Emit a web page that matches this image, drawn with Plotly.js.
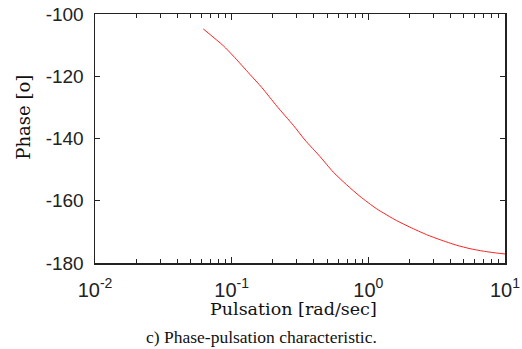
<!DOCTYPE html>
<html>
<head>
<meta charset="utf-8">
<script src="https://cdn.plot.ly/plotly-3.0.1.min.js"></script>
<style>html,body{margin:0;padding:0;background:#fff;}#chart{width:522px;height:349px;}</style>
</head>
<body>
<div id="chart"></div>
<script>
// Pulsation (rad/sec) and phase (degrees)
const pulsation = [0.062, 0.0869, 0.1028, 0.136, 0.166, 0.214, 0.283, 0.344, 0.443, 0.554, 0.695, 0.869, 1.151, 1.613, 2.02, 2.67, 3.34, 4.43, 5.55, 6.94, 8.69, 10];
const phase = [-104.8, -110.2, -113.5, -119.4, -123.6, -129.6, -135.8, -140.5, -145.8, -150.8, -154.9, -158.6, -162.6, -166.4, -168.5, -170.9, -172.5, -174.3, -175.4, -176.2, -176.8, -177.1];

const xTickVals = [0.01, 0.1, 1, 10];
const xTickText = ['10<sup>-2</sup>', '10<sup>-1</sup>', '10<sup>0</sup>', '10<sup>1</sup>'];
const yTickVals = [-100, -120, -140, -160, -180];
const yTickText = ['-100', '-120', '-140', '-160', '-180'];

const xTitle = 'Pulsation [rad/sec]';
const yTitle = 'Phase [o]';
const caption = 'c) Phase-pulsation characteristic.';

// minor log ticks 2..9 within each decade of the axis
const xMinorVals = [];
for (const dec of [0.01, 0.1, 1]) {
  for (let m = 2; m <= 9; m++) xMinorVals.push(m * dec);
}

const axisColor = '#222';

const trace = {
  x: pulsation,
  y: phase,
  type: 'scatter',
  mode: 'lines',
  line: {color: '#ff2020', width: 1, shape: 'spline', smoothing: 0.6},
  hoverinfo: 'skip'
};

const layout = {
  width: 522,
  height: 349,
  margin: {l: 95, r: 17, t: 14, b: 86},
  paper_bgcolor: '#fff',
  plot_bgcolor: '#fff',
  showlegend: false,
  xaxis: {
    type: 'log',
    range: [-2, 1],
    tickmode: 'array',
    tickvals: xTickVals,
    ticktext: xTickText,
    ticks: 'inside',
    ticklen: 6,
    tickwidth: 1,
    tickcolor: axisColor,
    minor: {tickmode: 'array', tickvals: xMinorVals, ticks: 'inside', ticklen: 4, tickwidth: 1, tickcolor: axisColor, showgrid: false},
    showline: true,
    linecolor: axisColor,
    linewidth: 1.5,
    mirror: 'ticks',
    showgrid: false,
    zeroline: false,
    automargin: false,
    ticklabelstandoff: 8,
    tickfont: {family: 'Liberation Sans, Arial, sans-serif', size: 20, color: '#222'}
  },
  yaxis: {
    range: [-180, -100],
    tickmode: 'array',
    tickvals: yTickVals,
    ticktext: yTickText,
    ticks: 'inside',
    ticklen: 5,
    tickwidth: 1,
    tickcolor: axisColor,
    showline: true,
    linecolor: axisColor,
    linewidth: 1.5,
    mirror: 'ticks',
    showgrid: false,
    zeroline: false,
    automargin: false,
    ticklabelstandoff: 6,
    tickfont: {family: 'Liberation Sans, Arial, sans-serif', size: 19, color: '#222'}
  },
  annotations: [{
    text: xTitle,
    xref: 'paper', yref: 'paper',
    x: 0.483, y: -0.185,
    xanchor: 'center', yanchor: 'middle',
    showarrow: false,
    font: {family: 'DejaVu Serif, serif', size: 17.5, color: '#111'}
  }, {
    text: yTitle,
    textangle: -90,
    xref: 'paper', yref: 'paper',
    x: -0.173, y: 0.584,
    xanchor: 'center', yanchor: 'middle',
    showarrow: false,
    font: {family: 'DejaVu Serif, serif', size: 18, color: '#111'}
  }, {
    text: caption,
    xref: 'paper', yref: 'paper',
    x: 0.405, y: -0.297,
    xanchor: 'center', yanchor: 'middle',
    showarrow: false,
    font: {family: 'Liberation Serif, Times New Roman, serif', size: 17.5, color: '#111'}
  }]
};

Plotly.newPlot('chart', [trace], layout, {staticPlot: true, displayModeBar: false});
</script>
</body>
</html>
